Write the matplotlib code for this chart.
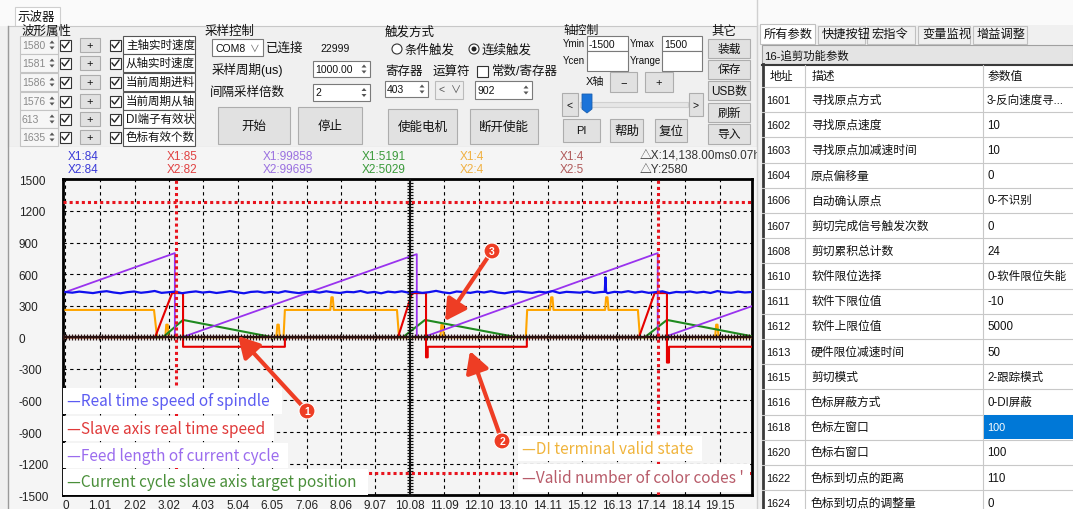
import numpy as np
import matplotlib.pyplot as plt
from matplotlib.patches import Rectangle, Circle, Polygon

plt.rcParams['font.family'] = ['Liberation Sans', 'Noto Sans CJK SC', 'DejaVu Sans']

# ---------------- values ----------------
time_labels = ['0', '1.01', '2.02', '3.02', '4.03', '5.04', '6.05', '7.06', '8.06', '9.07',
               '10.08', '11.09', '12.10', '13.10', '14.11', '15.12', '16.13', '17.14', '18.14', '19.15']
value_ticks = [1500, 1200, 900, 600, 300, 0, -300, -600, -900, -1200, -1500]

# spindle real time speed (blue), sampled evenly over the window
spindle_v = [430, 424, 434, 427, 420, 431, 438, 426, 418, 429,
             435, 423, 430, 440, 422, 428, 434, 419, 429, 436,
             425, 432, 421, 429, 439, 427, 418, 431, 435, 424,
             432, 423, 438, 428, 420, 430, 434, 425, 437, 427,
             421, 432, 428, 440, 423, 431, 418, 434, 427, 437,
             424, 432, 422, 429, 441, 427, 419, 435, 430, 422,
             434, 426, 438, 425, 418, 430, 436, 428, 422, 433,
             426, 439, 421, 432, 428, 424, 435, 422, 430, 419,
             432, 427, 438, 425, 434, 422, 429, 437, 419, 431,
             427, 435, 424, 432, 421, 439, 428, 423, 434, 426, 430]
spike_t = [15.78, 15.80, 15.82]
spike_v = [432, 570, 430]

# feed length of current cycle (purple)
feed_t = [0, 3.20, 3.20, 3.41, 10.28, 10.28, 10.46, 17.33, 17.33, 17.50, 20.08]
feed_v = [430, 800, 0, 0, 790, 0, 0, 800, 0, 0, 295]

# slave axis real time speed (red)
slave_t = [0, 2.62, 3.12, 3.44, 3.44, 6.42, 6.42, 9.73, 10.14, 10.55, 10.55, 10.60, 10.60,
           13.50, 13.50, 16.78, 17.24, 17.60, 17.60, 17.66, 17.66, 20.08]
slave_v = [0, 0, 420, 420, -90, -90, 0, 0, 420, 420, -190, -190, -90,
           -90, 0, 0, 420, 420, -240, -240, -90, -90]

# current cycle slave axis target position (green)
target_t = [0, 2.85, 3.44, 6.07, 9.87, 10.52, 13.21, 16.95, 17.60, 20.08]
target_v = [0, 0, 165, 0, 0, 165, 0, 0, 165, 10]

# DI terminal valid state (orange)
di_t = [0, 2.59, 2.68,
        2.92, 2.95, 2.99, 3.02,
        6.17, 6.20, 6.24, 6.27,
        6.38, 6.42,
        7.75, 7.78, 7.82, 7.85,
        9.70, 9.76,
        10.97, 11.00, 11.04, 11.07,
        13.47, 13.51,
        14.18, 14.21, 14.25, 14.28,
        15.79, 15.82, 15.86, 15.89,
        16.75, 16.81,
        19.01, 19.04, 19.08, 19.11,
        20.08]
di_v = [260, 260, 0,
        0, 120, 120, 0,
        0, 120, 120, 0,
        0, 260,
        260, 380, 380, 260,
        260, 0,
        0, 120, 120, 0,
        0, 260,
        260, 380, 380, 260,
        260, 380, 380, 260,
        260, 0,
        0, 120, 120, 0,
        0]

# valid number of color codes (brown)
codes_t = [0, 17.60, 17.60, 20.08]
codes_v = [4, 4, 5, 5]

cursor_t = [3.22, 17.33]
cursor_v = [1290, -1290]

readout_x1 = ['X1:84', 'X1:85', 'X1:99858', 'X1:5191', 'X1:4', 'X1:4']
readout_x2 = ['X2:84', 'X2:82', 'X2:99695', 'X2:5029', 'X2:4', 'X2:5']
delta_x = '△X:14,138.00ms0.07h'
delta_y = '△Y:2580'

channel_ids = ['1580', '1581', '1586', '1576', '613', '1635']
channel_names = ['主轴实时速度', '从轴实时速度', '当前周期进料', '当前周期从轴', 'DI端子有效状', '色标有效个数']

legend_labels = ['—Real time speed of spindle', '—Slave axis real time speed',
                 '—Feed length of current cycle', '—Current cycle slave axis target position',
                 '—DI terminal valid state', "—Valid number of color codes '"]

param_addr = ['1601', '1602', '1603', '1604', '1606', '1607', '1608', '1610', '1611',
              '1612', '1613', '1615', '1616', '1618', '1620', '1622', '1624']
param_desc = ['寻找原点方式', '寻找原点速度', '寻找原点加减速时间', '原点偏移量', '自动确认原点',
              '剪切完成信号触发次数', '剪切累积总计数', '软件限位选择', '软件下限位值', '软件上限位值',
              '硬件限位减速时间', '剪切模式', '色标屏蔽方式', '色标左窗口', '色标右窗口',
              '色标到切点的距离', '色标到切点的调整量']
param_val = ['3-反向速度寻...', '10', '10', '0', '0-不识别', '0', '24', '0-软件限位失能', '-10',
             '5000', '50', '2-跟踪模式', '0-DI屏蔽', '100', '100', '110', '0']
right_tabs = ['所有参数', '快捷按钮', '宏指令', '变量监视', '增益调整']

# ---------------- figure ----------------
W, H = 1073, 510
fig = plt.figure(figsize=(W / 100, H / 100), dpi=100)
fig.patch.set_facecolor('#f0f0f0')


def pix_axes(z):
    a = fig.add_axes([0, 0, 1, 1], zorder=z)
    a.set_xlim(0, W)
    a.set_ylim(H, 0)
    a.axis('off')
    a.patch.set_alpha(0)
    return a


def box(a, x0, y0, x1, y1, fc='white', ec='#7a7a7a', lw=0.8, z=1):
    a.add_patch(Rectangle((x0, y0), x1 - x0, y1 - y0, facecolor=fc, edgecolor=ec, linewidth=lw, zorder=z))


def txt(a, x, y, s, size=8.5, color='#111111', ha='left', va='center', **kw):
    a.text(x, y, s, fontsize=size, color=color, ha=ha, va=va, zorder=5, **kw)


def button(a, x0, y0, x1, y1, label, size=8.5):
    box(a, x0, y0, x1, y1, fc='#e1e1e1', ec='#adadad')
    txt(a, (x0 + x1) / 2, (y0 + y1) / 2, label, size, ha='center')


def checkbox(a, x, y, checked=True):
    box(a, x, y, x + 11, y + 11, fc='white', ec='#333333')
    if checked:
        a.plot([x + 2, x + 4.5, x + 9], [y + 5.5, y + 8.5, y + 2.5], color='#222222', lw=1, zorder=6)


def spin(a, x, yc):
    a.add_patch(Polygon([[x - 2.5, yc - 1.5], [x + 2.5, yc - 1.5], [x, yc - 4.5]], fc='#555555', ec='none', zorder=6))
    a.add_patch(Polygon([[x - 2.5, yc + 1.5], [x + 2.5, yc + 1.5], [x, yc + 4.5]], fc='#555555', ec='none', zorder=6))


ui = pix_axes(0)

# top strip + oscilloscope tab
box(ui, 0, 0, 757, 27, fc='#fafafa', ec='none')
box(ui, 15, 8, 60, 27, fc='white', ec='#cfcfcf')
txt(ui, 18, 17.5, '示波器', 9)
box(ui, 8, 27, 757, 148, fc='#f0f0f0', ec='#c8c8c8')
box(ui, 8, 148, 757, 510, fc='#f5f5f5', ec='none')
ui.plot([8, 8], [27, 510], color='#9a9a9a', lw=1)

# waveform property block
txt(ui, 22, 32, '波形属性', 9)
row_y = [46, 64, 83, 102, 120, 138]
for yc, cid, name in zip(row_y, channel_ids, channel_names):
    box(ui, 20, yc - 9, 58, yc + 9, fc='#f6f6f6', ec='#c4c4c4')
    txt(ui, 22, yc, cid, 7.5, color='#8a8a8a')
    spin(ui, 52, yc)
    checkbox(ui, 60, yc - 5.5)
    button(ui, 80, yc - 7, 100, yc + 7, '+', 8)
    checkbox(ui, 110, yc - 5.5)
    box(ui, 123, yc - 9, 195, yc + 9, fc='white', ec='#555555')
    txt(ui, 126, yc, name, 8.3)

# sampling control
txt(ui, 205, 32, '采样控制', 9)
box(ui, 212, 40, 263, 57)
txt(ui, 215, 48.5, 'COM8', 7.5)
txt(ui, 250, 48.5, '∨', 7, color='#666666')
txt(ui, 266, 48.5, '已连接', 9)
txt(ui, 320, 48.5, '22999', 7.5)
txt(ui, 212, 70, '采样周期(us)', 9)
box(ui, 313, 62, 370, 78)
txt(ui, 315, 70, '1000.00', 7.5)
spin(ui, 364, 70)
txt(ui, 210, 93, '间隔采样倍数', 9)
box(ui, 313, 85, 370, 102)
txt(ui, 315, 93.5, '2', 7.5)
spin(ui, 364, 93.5)
button(ui, 218, 108, 290, 145, '开始', 9)
button(ui, 298, 108, 362, 145, '停止', 9)

# trigger
txt(ui, 385, 32, '触发方式', 9)
ui.add_patch(Circle((397, 50), 5, fc='white', ec='#333333', lw=0.8, zorder=5))
txt(ui, 405, 50, '条件触发', 9)
ui.add_patch(Circle((474, 50), 5, fc='white', ec='#333333', lw=0.8, zorder=5))
ui.add_patch(Circle((474, 50), 2.5, fc='#222222', ec='none', zorder=6))
txt(ui, 482, 50, '连续触发', 9)
txt(ui, 385, 72, '寄存器', 9)
txt(ui, 433, 72, '运算符', 9)
checkbox(ui, 477, 66.5, checked=False)
txt(ui, 492, 72, '常数/寄存器', 9)
box(ui, 385, 82, 428, 98)
txt(ui, 387, 90, '403', 7.5)
spin(ui, 422, 90)
box(ui, 435, 82, 463, 100, fc='#eeeeee', ec='#bbbbbb')
txt(ui, 439, 91, '<  ∨', 7.5, color='#555555')
box(ui, 475, 82, 532, 100)
txt(ui, 477, 91, '902', 7.5)
spin(ui, 526, 91)
button(ui, 388, 110, 457, 145, '使能电机', 9)
button(ui, 470, 110, 538, 145, '断开使能', 9)

# axis control
txt(ui, 563, 31, '轴控制', 8.5)
txt(ui, 563, 44, 'Ymin', 7)
box(ui, 587, 37, 628, 52)
txt(ui, 589, 44.5, '-1500', 7.5)
txt(ui, 630, 44, 'Ymax', 7)
box(ui, 662, 37, 702, 52)
txt(ui, 664, 44.5, '1500', 7.5)
txt(ui, 563, 61, 'Ycen', 7)
box(ui, 587, 52, 628, 72)
txt(ui, 630, 61, 'Yrange', 7)
box(ui, 662, 52, 702, 72)
txt(ui, 586, 82, 'X轴', 8)
button(ui, 610, 73, 637, 93, '−', 8)
button(ui, 645, 73, 673, 93, '+', 8)
button(ui, 562, 94, 578, 117, '<', 7.5)
box(ui, 580, 103, 688, 108, fc='#e6e6e6', ec='#d0d0d0')
ui.add_patch(Polygon([[582, 95], [592, 95], [592, 110], [587, 114], [582, 110]], fc='#1a73d9', ec='#1a5fb0', lw=0.6, zorder=6))
button(ui, 689, 94, 703, 117, '>', 7.5)
button(ui, 563, 120, 600, 143, 'PI', 8)
button(ui, 610, 120, 643, 143, '帮助', 9)
button(ui, 655, 120, 687, 143, '复位', 9)

# other
txt(ui, 711, 32, '其它', 9)
for (y0, y1), lab in zip([(40, 59), (61, 80), (82, 101), (104, 123), (125, 145)],
                         ['装载', '保存', 'USB数', '刷新', '导入']):
    button(ui, 708, y0, 750, y1, lab, 8.5)

# cursor readouts above the plot
readout_colors = ['#3a3ad8', '#e04040', '#9a70e0', '#3a9a3a', '#f0b040', '#b05a5a']
readout_x = [68, 167, 263, 362, 460, 560]
for x, s1, s2, c in zip(readout_x, readout_x1, readout_x2, readout_colors):
    txt(ui, x, 157, s1, 8.5, color=c)
    txt(ui, x, 170, s2, 8.5, color=c)
txt(ui, 640, 157, delta_x, 8.5, color='#333333')
txt(ui, 640, 170, delta_y, 8.5, color='#333333')

# ---------------- oscilloscope plot ----------------
L, R, T, B = 63.1, 751.7, 180.4, 496.2
ax = fig.add_axes([L / W, 1 - B / H, (R - L) / W, (B - T) / H], zorder=1)
ax.set_facecolor('#f4f4f4')
ax.set_xlim(-0.07, 20.08)
ax.set_ylim(-1500, 1500)

tpos = [float(s) for s in time_labels]
ax.set_xticks(tpos)
ax.set_xticklabels(time_labels)
ax.set_yticks(value_ticks)
ax.set_yticklabels([str(v) for v in value_ticks], ha='left')
ax.tick_params(axis='x', length=0, pad=2.5, labelsize=8.5, labelcolor='#222222')
ax.tick_params(axis='y', length=0, pad=32, labelsize=8.5, labelcolor='#222222')
for v in value_ticks:
    ax.axhline(v, color='black', lw=0.8, ls=(0, (3, 3)), zorder=1)
for t in tpos:
    ax.axvline(t, color='black', lw=0.8, ls=(0, (3, 3)), zorder=1)
for sp in ax.spines.values():
    sp.set_linewidth(2)
    sp.set_color('black')

spindle_t = np.linspace(0, 20.08, len(spindle_v))
blue_t = np.concatenate([spindle_t, spike_t])
blue_v = np.concatenate([spindle_v, spike_v])
order = np.argsort(blue_t, kind='stable')

ax.plot(codes_t, codes_v, color='#8b2a2a', lw=1.5, zorder=2)
ax.plot(di_t, di_v, color='#ffa500', lw=1.5, zorder=3)
ax.plot(target_t, target_v, color='#1f8a1f', lw=1.5, zorder=3)
ax.plot(feed_t, feed_v, color='#9933ee', lw=1.3, zorder=4)
ax.plot(slave_t, slave_v, color='#e60000', lw=1.5, zorder=5)
ax.plot(blue_t[order], blue_v[order], color='#1010ee', lw=1.6, zorder=5)

# ruler axes through the origin
rx = np.arange(-0.07, 20.08, 0.088)
ax.axhline(0, color='#2a1212', lw=1.6, zorder=6)
ax.plot(rx, np.zeros_like(rx), ls='none', marker='|', ms=4.5, mew=0.9, color='#2a1212', zorder=6)
ry = np.arange(-1500, 1500, 28.5)
ax.axvline(10.08, color='#111111', lw=1.4, zorder=6)
ax.plot(np.full_like(ry, 10.08), ry, ls='none', marker='_', ms=4.5, mew=0.9, color='#111111', zorder=6)

# cursors
for t in cursor_t:
    ax.axvline(t, color='#e8141e', lw=2.2, ls=(0, (1, 1)), zorder=7)
for v in cursor_v:
    ax.axhline(v, color='#e8141e', lw=2.2, ls=(0, (1, 1)), zorder=7)

# ---------------- overlay: legend boxes, arrows, right panel ----------------
top = pix_axes(3)

legend_boxes = [(63, 389, 282, 415), (63, 417, 274, 442), (63, 444, 288, 469), (63, 470, 368, 496),
                (518, 437, 702, 462), (518, 465, 750, 493)]
legend_colors = ['#5c5cf2', '#e03a3a', '#9b6cee', '#4a8f3a', '#f0b43c', '#b85c6a']
for (x0, y0, x1, y1), lab, c in zip(legend_boxes, legend_labels, legend_colors):
    box(top, x0, y0, x1, y1, fc='white', ec='none')
    top.text(x0 + 4, (y0 + y1) / 2, lab, fontsize=11.1, color=c, ha='left', va='center',
             family=['Noto Sans CJK SC', 'DejaVu Sans'], zorder=5)

arrow_red = '#ee3d24'
for num, (sx, sy), (tx, ty) in [('1', (307, 412), (238, 337)),
                                ('2', (502, 442), (470, 352)),
                                ('3', (492, 252), (445, 322))]:
    top.annotate('', xy=(tx, ty), xytext=(sx, sy),
                 arrowprops=dict(arrowstyle='-|>,head_length=0.9,head_width=0.5', color=arrow_red,
                                 lw=3, shrinkA=0, shrinkB=0, mutation_scale=14), zorder=8)
    top.add_patch(Circle((sx, sy), 8, fc=arrow_red, ec='white', lw=0.8, zorder=9))
    top.text(sx, sy, num, fontsize=7.5, color='white', ha='center', va='center', weight='bold', zorder=10)

# right parameter panel
box(top, 757, 0, 1073, 510, fc='#f0f0f0', ec='none', z=0)
box(top, 757, 0, 1073, 26, fc='#fafafa', ec='none', z=0)
top.plot([757, 757], [0, 510], color='#d0d0d0', lw=1)
tab_x = [(760, 815), (818, 865), (867, 915), (918, 970), (973, 1027)]
for i, ((x0, x1), lab) in enumerate(zip(tab_x, right_tabs)):
    box(top, x0, 25 if i == 0 else 27, x1, 45, fc='white' if i == 0 else '#f0f0f0', ec='#c0c0c0')
    txt(top, x0 + 4, 35, lab, 8.8)
box(top, 762, 46, 1073, 65, fc='#e4e4e4', ec='#a0a0a0')
txt(top, 764, 56, '16-追剪功能参数', 8.2)
box(top, 762, 65, 1073, 510, fc='white', ec='none')
top.plot([763, 763], [65, 510], color='#3a3a3a', lw=2)
top.plot([762, 1073], [66, 66], color='#3a3a3a', lw=1.5)
top.plot([805, 805], [66, 510], color='#c8c8c8', lw=0.8)
top.plot([983, 983], [66, 510], color='#c8c8c8', lw=0.8)
txt(top, 770, 77, '地址', 8.5)
txt(top, 812, 77, '描述', 8.5)
txt(top, 988, 77, '参数值', 8.5)
row_h = 25.2
for i, (a_, d_, v_) in enumerate(zip(param_addr, param_desc, param_val)):
    y0 = 88 + i * row_h
    top.plot([762, 1073], [y0, y0], color='#c8c8c8', lw=0.8)
    yc = y0 + row_h / 2
    txt(top, 766, yc, a_, 7.8)
    txt(top, 811, yc, d_, 8.5)
    if a_ == '1618':
        box(top, 983.5, y0 + 0.5, 1073, y0 + row_h - 0.5, fc='#0078d7', ec='none', z=2)
        txt(top, 987, yc, v_, 7.8, color='white')
    else:
        txt(top, 987, yc, v_, 8.3)

fig.savefig('out.png', dpi=100, facecolor=fig.get_facecolor())
